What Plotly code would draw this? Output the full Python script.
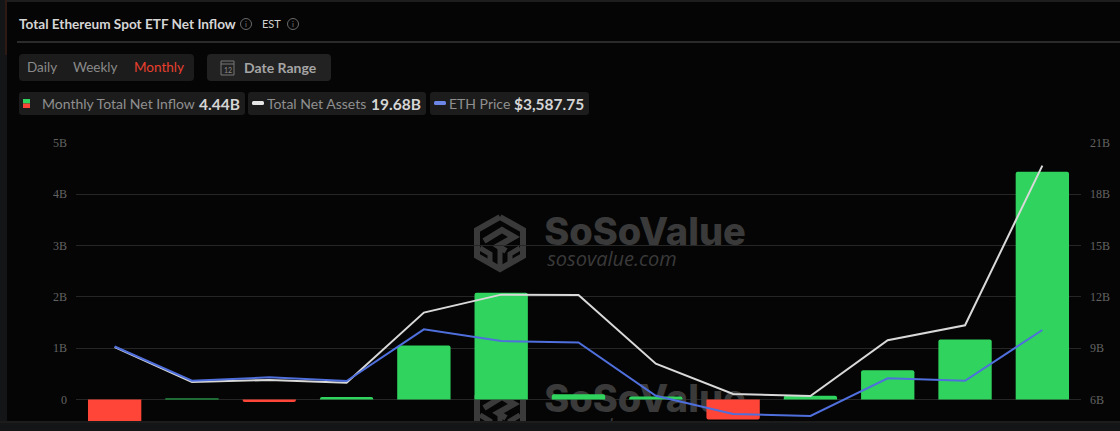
import plotly.graph_objects as go

W, H = 1120, 431
months = ["2024-07","2024-08","2024-09","2024-10","2024-11","2024-12","2025-01","2025-02","2025-03","2025-04","2025-05","2025-06","2025-07"]
net_inflow = [-0.48,0.01,-0.05,0.05,1.05,2.08,0.10,0.06,-0.39,0.07,0.57,1.17,4.44]
net_assets = [9.07,7.02,7.14,6.98,11.08,12.13,12.11,8.09,6.32,6.20,9.46,10.34,19.68]
eth_price = [3243,2529,2600,2523,3602,3358,3327,2216,1834,1792,2579,2529,3587.75]
left_tickvals = [0,1,2,3,4,5]
left_ticktext = ["0","1B","2B","3B","4B","5B"]
right_tickvals = [6,9,12,15,18,21]
right_ticktext = ["6B","9B","12B","15B","18B","21B"]

GREEN, RED, FAINT_GREEN = "#2FD35D", "#FF4438", "#1E6B35"
WHITE_LINE, BLUE_LINE = "#D9D9D9", "#4F6FDC"
BG, CHIP, GRID, TICK = "#050505", "#1C1C1C", "#262626", "#636363"
WM = "#3A3A3A"
FONT = "Lato"

def px(x): return x / W
def py(y): return 1 - y / H

shapes, ann = [], []

def rect(x0, y0, x1, y1, fill, layer="below", r=0):
    if r:
        path = (f"M{px(x0+r)},{py(y0)} L{px(x1-r)},{py(y0)} Q{px(x1)},{py(y0)} {px(x1)},{py(y0+r)} "
                f"L{px(x1)},{py(y1-r)} Q{px(x1)},{py(y1)} {px(x1-r)},{py(y1)} L{px(x0+r)},{py(y1)} "
                f"Q{px(x0)},{py(y1)} {px(x0)},{py(y1-r)} L{px(x0)},{py(y0+r)} Q{px(x0)},{py(y0)} {px(x0+r)},{py(y0)} Z")
        shapes.append(dict(type="path", xref="paper", yref="paper", path=path, fillcolor=fill, line_width=0, layer=layer))
    else:
        shapes.append(dict(type="rect", xref="paper", yref="paper", x0=px(x0), x1=px(x1), y0=py(y1), y1=py(y0),
                           fillcolor=fill, line_width=0, layer=layer))

def text(x, y, s, size=13, color="#999", bold=False, anchor="left", family=FONT, weight=None):
    f = dict(family=family, size=size, color=color)
    if bold: f["weight"] = weight or 700
    ann.append(dict(xref="paper", yref="paper", x=px(x), y=py(y), text=s, showarrow=False, xanchor=anchor, yanchor="middle",
                    font=f, borderpad=0))

def info(cx, cy):
    r = 5.5
    shapes.append(dict(type="circle", xref="paper", yref="paper", x0=px(cx-r), x1=px(cx+r), y0=py(cy+r), y1=py(cy-r),
                       line=dict(color="#6A6A6A", width=1), fillcolor="rgba(0,0,0,0)", layer="below"))
    text(cx, cy, "i", 8, "#7A7A7A", anchor="center")

def poly(points, color, width=5):
    p = "M" + " L".join(f"{px(a)},{py(b)}" for a, b in points)
    shapes.append(dict(type="path", xref="paper", yref="paper", path=p, layer="below", line=dict(color=color, width=width)))

# frame
rect(0, 0, W, 2, "#1E1E1E")
rect(0, 0, 5, H, "#141517")
rect(5, 0, 7, 55, "#2E1A14")
rect(5, 55, 7, H, "#141517")

# header
text(18, 23.5, "Total Ethereum Spot ETF Net Inflow", 13.6, "#D5D5D5", True)
info(246, 24)
text(261, 23.5, "EST", 11, "#D0D0D0", False)
info(293, 24)
rect(17, 41, W, 43, "#2B2B2B")

# range selector
rect(19, 54, 194, 81, CHIP, r=4)
text(26, 67.5, "Daily", 13.5, "#8A8A8A")
text(72, 67.5, "Weekly", 13.5, "#8A8A8A")
text(133, 67.5, "Monthly", 13.5, "#E8402E")
rect(207, 54, 331, 81, "#222222", r=4)
shapes.append(dict(type="rect", xref="paper", yref="paper", x0=px(221), x1=px(234), y0=py(75), y1=py(61),
                   line=dict(color="#777", width=1), fillcolor="rgba(0,0,0,0)"))
shapes.append(dict(type="line", xref="paper", yref="paper", x0=px(221), x1=px(234), y0=py(64), y1=py(64),
                   line=dict(color="#777", width=1)))
text(227.5, 70, "12", 7, "#8A8A8A", anchor="center")
text(243, 67.5, "Date Range", 14, "#A5A5A5", True)

# legend chips
rect(19, 92, 245, 115, CHIP, r=3)
rect(23, 99, 30, 103.5, GREEN)
rect(23, 103.5, 30, 108, RED)
text(41, 103.5, "Monthly Total Net Inflow", 14, "#8F8F8F")
text(198, 103.5, "4.44B", 15.5, "#D5D5D5", True)
rect(248, 92, 426, 115, CHIP, r=3)
rect(252, 101, 264, 105, "#E6E6E6", r=1.5)
text(266, 103.5, "Total Net Assets", 14, "#8F8F8F")
text(370, 103.5, "19.68B", 15.5, "#D5D5D5", True)
rect(430, 92, 589, 115, CHIP, r=3)
rect(434, 101, 446, 105, "#6C86E8", r=1.5)
text(448, 103.5, "ETH Price", 14, "#8F8F8F")
text(513, 103.5, "$3,587.75", 15.5, "#D5D5D5", True)

fig = go.Figure()

# watermark: lives on the base subplot (pixel-scaled, hidden axes) so the data subplots paint over it
def watermark(dy):
    cx, cy = 500, 243 + dy
    hexagon = [(cx, cy-26), (cx+23, cy-13), (cx+23, cy+13), (cx, cy+26), (cx-23, cy+13), (cx-23, cy-13), (cx, cy-26)]
    poly(hexagon, WM, width=6)
    poly([(cx-16, cy-2), (cx+2, cy-13), (cx+14, cy-6), (cx-2, cy+3), (cx+6, cy+8)], WM, width=6)
    poly([(cx-20, cy+5), (cx-10, cy+11), (cx-10, cy+20)], WM, width=5)
    poly([(cx+20, cy+5), (cx+10, cy+11), (cx+10, cy+20)], WM, width=5)
    poly([(cx, cy+3), (cx, cy+24)], WM, width=5)
    fig.add_scatter(x=[645], y=[235 + dy], mode="text", text=["SoSoValue"], textposition="middle center",
                    textfont=dict(family="Inter", size=38, color=WM, weight=800), cliponaxis=True,
                    xaxis="x", yaxis="y", hoverinfo="skip")
    fig.add_scatter(x=[612], y=[261 + dy], mode="text", text=["sosovalue.com"], textposition="middle center",
                    textfont=dict(family="Open Sans", size=20, color=WM, style="italic"), cliponaxis=True,
                    xaxis="x", yaxis="y", hoverinfo="skip")

watermark(0)
watermark(167)
rect(0, 421, W, 423, "#1C1C1C", layer="above")
rect(0, 423, W, H, "#141517", layer="above")

colors = [GREEN if v > 0.02 else (FAINT_GREEN if v >= 0 else RED) for v in net_inflow]
fig.add_bar(x=months, y=net_inflow, marker=dict(color=colors, line_width=0, cornerradius=2), width=0.69,
            xaxis="x2", yaxis="y2", name="Monthly Total Net Inflow")
fig.add_scatter(x=months, y=net_assets, mode="lines", line=dict(color=WHITE_LINE, width=2),
                xaxis="x2", yaxis="y3", name="Total Net Assets")
fig.add_scatter(x=months, y=eth_price, mode="lines", line=dict(color=BLUE_LINE, width=2),
                xaxis="x2", yaxis="y4", name="ETH Price")

tickfont = dict(family="Liberation Serif", size=12, color=TICK)
dom_x = [px(76), px(1081)]
dom_y = [py(421), py(143)]
fig.update_layout(
    width=W, height=H, margin=dict(l=0, r=0, t=0, b=0, pad=0), autosize=False,
    paper_bgcolor=BG, plot_bgcolor="rgba(0,0,0,0)", showlegend=False,
    shapes=shapes, annotations=ann,
    xaxis=dict(domain=dom_x, range=[76, 1081], visible=False, automargin=False),
    yaxis=dict(domain=dom_y, range=[421, 143], visible=False, automargin=False),
    xaxis2=dict(type="category", domain=dom_x, visible=False, range=[-0.5, 12.5], automargin=False,
                overlaying="x", anchor="y2"),
    yaxis2=dict(domain=dom_y, range=[-0.42, 5], tickvals=left_tickvals, ticktext=left_ticktext,
                gridcolor=GRID, gridwidth=1, zeroline=False, showline=False, ticks="", tickfont=tickfont,
                overlaying="y", side="left", anchor="x2", ticklabelstandoff=8, automargin=False),
    yaxis3=dict(domain=dom_y, range=[6 - 0.42 * 3, 21], tickvals=right_tickvals, ticktext=right_ticktext,
                overlaying="y", side="right", showgrid=False, zeroline=False, showline=False, ticks="",
                tickfont=tickfont, anchor="x2", ticklabelstandoff=8, automargin=False),
    yaxis4=dict(domain=dom_y, range=[1688, 7492], overlaying="y", visible=False, anchor="x2", automargin=False),
)
fig.write_html("out.html", config=dict(displayModeBar=False),
               post_script="document.body.style.margin='0';document.body.style.overflow='hidden';document.body.style.background='#050505';")
